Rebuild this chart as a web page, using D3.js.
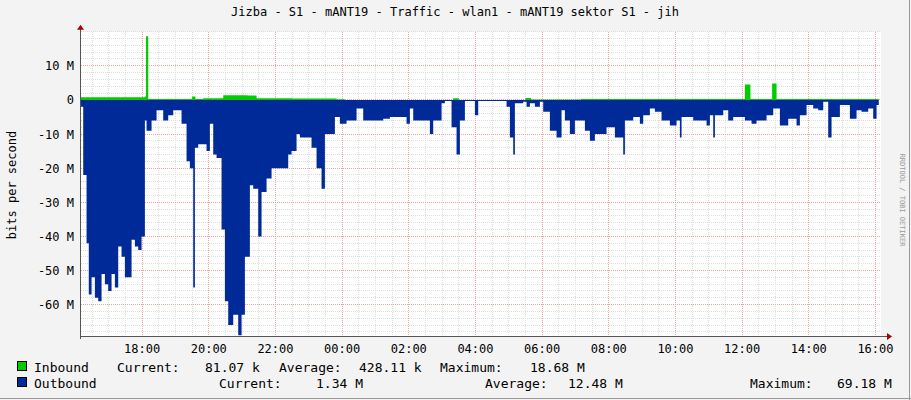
<!DOCTYPE html>
<html><head><meta charset="utf-8">
<script src="https://cdn.jsdelivr.net/npm/d3@7"></script>
<style>
body{margin:0;background:#f3f3f3}
text{font-family:"DejaVu Sans Mono",monospace;fill:#000}
</style></head><body>
<svg id="c" width="911" height="400"></svg>
<script>
// minutes since 16:10, value in Mbit/s (step after)
const outT = [0,4,10,14,19,25,31,37,43,49,55,61,67,73,79,91,97,103,109,115,118,127,136,148,157,166,181,190,196,202,205,211,226,232,238,244,253,259,265,274,283,289,295,304,310,319,325,334,343,373,379,388,394,415,424,433,439,457,466,478,496,508,544,556,586,592,598,628,634,649,655,667,676,682,691,709,715,766,772,778,781,796,802,808,817,826,832,844,856,865,871,880,889,907,916,925,946,961,976,979,994,1006,1012,1024,1033,1045,1060,1072,1078,1081,1102,1126,1132,1138,1141,1156,1165,1174,1195,1207,1216,1234,1246,1258,1273,1288,1294,1306,1318,1327,1336,1345,1351,1366,1384,1396,1405,1417,1426,1432,1436];
const outV = [2,22,42,57,52,58,59,51,54,56,51,55,43,46,52,41,43,44,40,6,9,6,3,6,4.5,3,7,18,20,55,14,13,15,7,16,17,38,59,66,63,69,63,46,25,26,40,27,23,20,16,15,10,11,14,20,26,10,5,7,6,2.5,6,5.5,5,7,2.5,6,10,6,1,0.3,8,16,6,0.3,4.5,0.3,2,11,16,1,0.5,2,1,2,0.5,3.5,9,11,3,6,10,6,9,12,10,8,11,16,6,5,7,4.5,2.5,3.5,6,7.5,6,11,5,6,7.5,4.5,11,4.5,3,6,5,6,7,6,4.5,2.5,7.5,5.5,7.5,4.5,1.5,2.5,3,0.5,11,5,1.5,5.5,3,3.5,2.5,5.5,1.5,1.5];
const inT = [0,115,117,121,140,190,200,206,220,256,300,316,380,460,475,670,680,800,810,900,1195,1205,1244,1252,1300,1436];
const inV = [0.8,1.0,18.68,0.3,0.3,0.3,1.0,0.3,0.5,1.4,1.3,0.5,0.4,0.2,0,0.5,0,0.6,0.1,0.3,4.5,0.3,4.8,0.3,0.3,0.3];
const hourLabels = ["18:00","20:00","22:00","00:00","02:00","04:00","06:00","08:00","10:00","12:00","14:00","16:00"];
const yTicks = [10,0,-10,-20,-30,-40,-50,-60];

const svg = d3.select("#c");
const L = 81, R = 881, T = 31.7, B = 336;
const x = d3.scaleLinear().domain([0,1440]).range([L,R]);
const y = d3.scaleLinear().domain([-69.2,20]).range([B,T]);
const minOf = s => { const [h,m]=s.split(":").map(Number); let v=(h*60+m)-(16*60+10); return v<0?v+1440:v; };

svg.append("rect").attr("x",L).attr("y",T).attr("width",R-L).attr("height",B-T).attr("fill","#fff");
const g = svg.append("g");
// minor grid
for (let m=minOf("16:30"); m<=1440; m+=30)
  g.append("line").attr("x1",x(m)).attr("x2",x(m)).attr("y1",T).attr("y2",B).attr("stroke","#ddd").attr("stroke-dasharray","1,1").attr("shape-rendering","crispEdges");
for (let v=-68; v<=20; v+=2)
  g.append("line").attr("x1",L).attr("x2",R).attr("y1",y(v)).attr("y2",y(v)).attr("stroke","#ddd").attr("stroke-dasharray","1,1").attr("shape-rendering","crispEdges");
hourLabels.forEach(h => g.append("line").attr("x1",x(minOf(h))).attr("x2",x(minOf(h))).attr("y1",T).attr("y2",B).attr("stroke","#f3a0a0").attr("stroke-dasharray","1,1").attr("shape-rendering","crispEdges"));
yTicks.forEach(v => g.append("line").attr("x1",L).attr("x2",R).attr("y1",y(v)).attr("y2",y(v)).attr("stroke","#f3a0a0").attr("stroke-dasharray","1,1").attr("shape-rendering","crispEdges"));

const inData = inT.map((t,i)=>[t,inV[i]]);
const outData = outT.map((t,i)=>[t,-outV[i]]);
const area = d3.area().curve(d3.curveStepAfter).x(d=>x(d[0])).y0(y(0)).y1(d=>y(d[1]));
svg.append("path").datum(inData).attr("d",area).attr("fill","#00cc00");
svg.append("path").datum(outData).attr("d",area).attr("fill","#002a97");

// axes
svg.append("line").attr("x1",L).attr("x2",R+8).attr("y1",B+0.5).attr("y2",B+0.5).attr("stroke","#555");
svg.append("line").attr("x1",L-0.5).attr("x2",L-0.5).attr("y1",B+3).attr("y2",T-4).attr("stroke","#555");
svg.append("path").attr("d",`M${R+6},${B-3}L${R+11},${B+0.5}L${R+6},${B+4}Z`).attr("fill","#a00");
svg.append("path").attr("d",`M${L-4},${T-2}L${L-0.5},${T-7}L${L+3},${T-2}Z`).attr("fill","#a00");
svg.append("g").selectAll("text").data(hourLabels).join("text")
  .attr("x",d=>x(minOf(d))).attr("y",B+17).attr("text-anchor","middle").attr("font-size",12).text(d=>d);
svg.append("g").selectAll("text").data(yTicks).join("text")
  .attr("x",L-7).attr("y",d=>y(d)+4.5).attr("text-anchor","end").attr("font-size",12).text(d=>d===0?"0":d+" M");
svg.append("text").attr("transform","translate(16,185) rotate(-90)").attr("text-anchor","middle").attr("font-size",12).text("bits per second");
svg.append("text").attr("x",455).attr("y",16).attr("text-anchor","middle").attr("font-size",12).text("Jizba - S1 - mANT19 - Traffic - wlan1 - mANT19 sektor S1 - jih");
svg.append("text").attr("transform","translate(900,200) rotate(90)").attr("text-anchor","middle").attr("font-size",7).style("fill","#999").text("RRDTOOL / TOBI OETIKER");

// legend
const leg = [
  {c:"#00cc00", y:372, parts:[[34,"Inbound"],[117,"Current:"],[205,"81.07 k"],[279,"Average:"],[359,"428.11 k"],[440,"Maximum:"],[530,"18.68 M"]]},
  {c:"#002a97", y:388, parts:[[34,"Outbound"],[219,"Current:"],[316,"1.34 M"],[485,"Average:"],[568,"12.48 M"],[750,"Maximum:"],[837,"69.18 M"]]}
];
leg.forEach(l => {
  svg.append("rect").attr("x",17.5).attr("y",l.y-10.5).attr("width",9).attr("height",9).attr("fill",l.c).attr("stroke","#000");
  l.parts.forEach(p => svg.append("text").attr("x",p[0]).attr("y",l.y).attr("font-size",13).text(p[1]));
});
svg.append("line").attr("x1",0).attr("x2",911).attr("y1",398.5).attr("y2",398.5).attr("stroke","#999");
svg.append("line").attr("x1",909.5).attr("x2",909.5).attr("y1",0).attr("y2",400).attr("stroke","#999");
</script></body></html>
